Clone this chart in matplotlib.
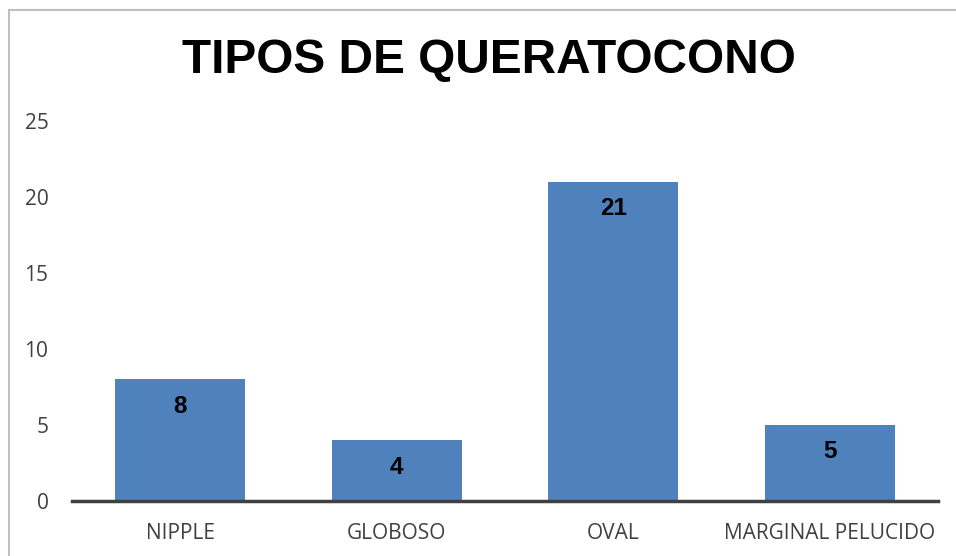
import matplotlib.pyplot as plt
from matplotlib.lines import Line2D

categories = ["NIPPLE", "GLOBOSO", "OVAL", "MARGINAL PELUCIDO"]
values = [8, 4, 21, 5]
yticks = [0, 5, 10, 15, 20, 25]

W, H = 956, 556
fig = plt.figure(figsize=(W / 100, H / 100), dpi=100)
fig.patch.set_facecolor("white")

# chart border, only top and left are visible in the crop
fig.lines.append(Line2D([8.5 / W, 8.5 / W], [0, (H - 10) / H], transform=fig.transFigure,
                        color="#bfbfbf", linewidth=1.5))
fig.lines.append(Line2D([8.5 / W, 1], [(H - 10) / H, (H - 10) / H], transform=fig.transFigure,
                        color="#bfbfbf", linewidth=1.5))

ax = fig.add_axes([72 / W, (H - 501) / H, (938 - 72) / W, (501 - 121) / H])
x = list(range(len(categories)))
ax.bar(x, values, width=0.6, color="#4f81bd")

ax.set_xlim(-0.5, len(categories) - 0.5)
ax.set_ylim(0, 25)
ax.set_yticks(yticks)
ax.set_xticks(x)
ax.set_xticklabels(categories, fontfamily="Open Sans", fontsize=15, color="#404040")
ax.set_yticklabels([str(t) for t in yticks], fontfamily="Open Sans", fontsize=15, color="#404040")
ax.tick_params(axis="both", length=0)
ax.tick_params(axis="x", pad=16)
ax.tick_params(axis="y", pad=17)

for s in ["top", "right", "left"]:
    ax.spines[s].set_visible(False)
ax.spines["bottom"].set_color("#404040")
ax.spines["bottom"].set_linewidth(2.5)

for xi, v in zip(x, values):
    ax.annotate(str(v), (xi, v), xytext=(0, -27), textcoords="offset pixels",
                ha="center", va="center", fontfamily="Liberation Sans",
                fontweight="bold", fontsize=17.5, color="black")

fig.text(489 / W, (H - 60) / H, "TIPOS DE QUERATOCONO", ha="center", va="center",
         fontfamily="Liberation Sans", fontweight="bold", fontsize=34.4, color="black")

fig.savefig("out.png", dpi=100)
